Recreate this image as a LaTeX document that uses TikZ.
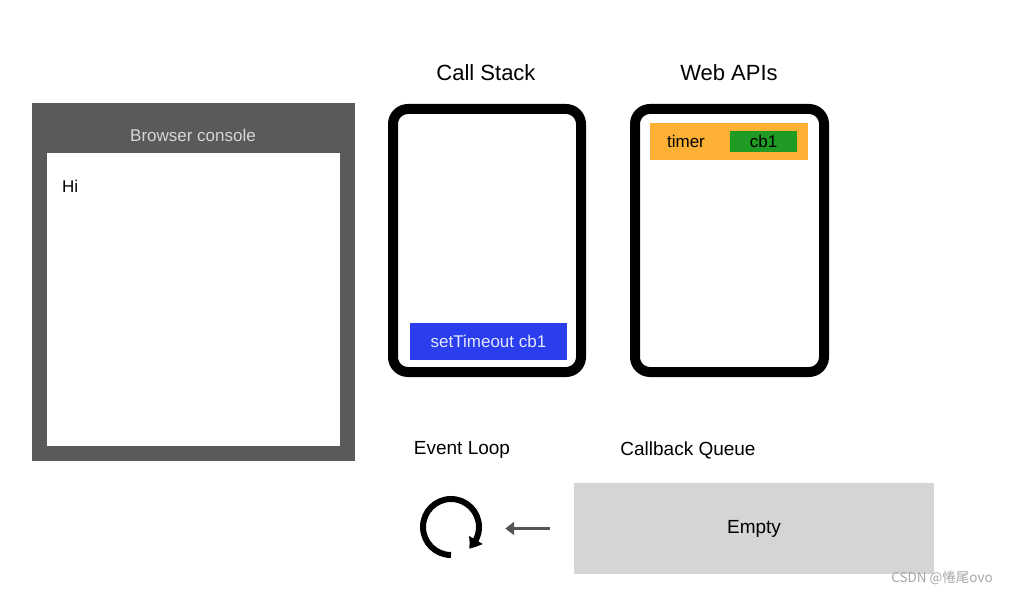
\documentclass[tikz,border=0pt]{standalone}
\usepackage{fontspec}
\setmainfont{Liberation Sans}
\newfontfamily\cjkfont{Noto Sans CJK SC}
\usetikzlibrary{arrows.meta,bending}
\pgfdeclarelayer{edgelayer}
\pgfdeclarelayer{nodelayer}
\pgfsetlayers{edgelayer,nodelayer,main}
\definecolor{consolegray}{HTML}{5A5A5A}
\definecolor{headgray}{HTML}{D6D6D6}
\definecolor{stackblue}{HTML}{2B3EEE}
\definecolor{apiorange}{HTML}{FCB134}
\definecolor{cbgreen}{HTML}{1F9A22}
\definecolor{queuegray}{HTML}{D5D5D5}
\definecolor{arrowgray}{HTML}{555555}
\tikzstyle{none} = [inner sep=0pt]
\tikzstyle{headtext} = [inner sep=0pt, font=\fontsize{22}{26}\selectfont]
\tikzstyle{boxtext} = [inner sep=0pt, font=\fontsize{19}{23}\selectfont]
\tikzstyle{smalltext} = [inner sep=0pt, font=\fontsize{17}{20}\selectfont]
\tikzstyle{roundframe} = [draw=black, line width=10pt, rounded corners=15pt]
\tikzstyle{watermark} = [inner sep=0pt, font=\cjkfont\fontsize{13.5}{16}\selectfont, text=gray!70]

\begin{document}
\begin{tikzpicture}[x=1pt, y=1pt]
	\useasboundingbox (0, 0) rectangle (1011, 595);
	\begin{pgfonlayer}{nodelayer}
		\node [style=none] (0) at (32, 492) {};
		\node [style=none] (1) at (355, 134) {};
		\node [style=none] (2) at (47, 442) {};
		\node [style=none] (3) at (340, 149) {};
		\node [style=smalltext, text=headgray] (4) at (193, 460) {Browser console};
		\node [style=smalltext, anchor=west] (5) at (62, 409) {Hi};
		\node [style=headtext] (6) at (486, 522) {Call Stack};
		\node [style=none] (7) at (393, 486) {};
		\node [style=none] (8) at (581, 223) {};
		\node [style=none] (9) at (410, 272) {};
		\node [style=none] (10) at (567, 235) {};
		\node [style=smalltext, text=white!88!stackblue] (11) at (488.5, 253.5) {setTimeout cb1};
		\node [style=headtext] (12) at (729, 522) {Web APIs};
		\node [style=none] (13) at (635, 486) {};
		\node [style=none] (14) at (824, 223) {};
		\node [style=none] (15) at (650, 472) {};
		\node [style=none] (16) at (808, 435) {};
		\node [style=smalltext] (17) at (686, 454) {timer};
		\node [style=none] (18) at (730, 464) {};
		\node [style=none] (19) at (797, 443) {};
		\node [style=smalltext] (20) at (763.5, 453.5) {cb1};
		\node [style=boxtext] (21) at (462, 145) {Event Loop};
		\node [style=boxtext] (22) at (688, 145) {Callback Queue};
		\node [style=none, circle, minimum size=62pt] (23) at (451, 68) {};
		\node [style=none] (24) at (574, 112) {};
		\node [style=none] (25) at (934, 21) {};
		\node [style=boxtext, minimum width=360pt, minimum height=91pt] (26) at (754, 66.5) {Empty};
		\node [style=watermark] (27) at (942, 17) {CSDN @惓尾ovo};
	\end{pgfonlayer}
	\begin{pgfonlayer}{edgelayer}
		\fill [white] (0, 0) rectangle (1011, 595);
		\fill [consolegray] (0.center) rectangle (1.center);
		\fill [white] (2.center) rectangle (3.center);
		\draw [style=roundframe] (7.center) rectangle (8.center);
		\fill [stackblue] (9.center) rectangle (10.center);
		\draw [style=roundframe] (13.center) rectangle (14.center);
		\fill [apiorange] (15.center) rectangle (16.center);
		\fill [cbgreen] (18.center) rectangle (19.center);
		\fill [queuegray] (24.center) rectangle (25.center);
		\draw [line width=6pt, -{Triangle[length=11pt, width=15pt, bend]}] ([shift={(270:28)}]23.center) arc [start angle=270, end angle=-50, radius=28];
		\draw [arrowgray, line width=3.5pt, -{Triangle[length=9pt, width=13pt]}, shorten <=24pt, shorten >=23pt] (26.west) -- (23.east |- 26.west);
	\end{pgfonlayer}
\end{tikzpicture}
\end{document}
